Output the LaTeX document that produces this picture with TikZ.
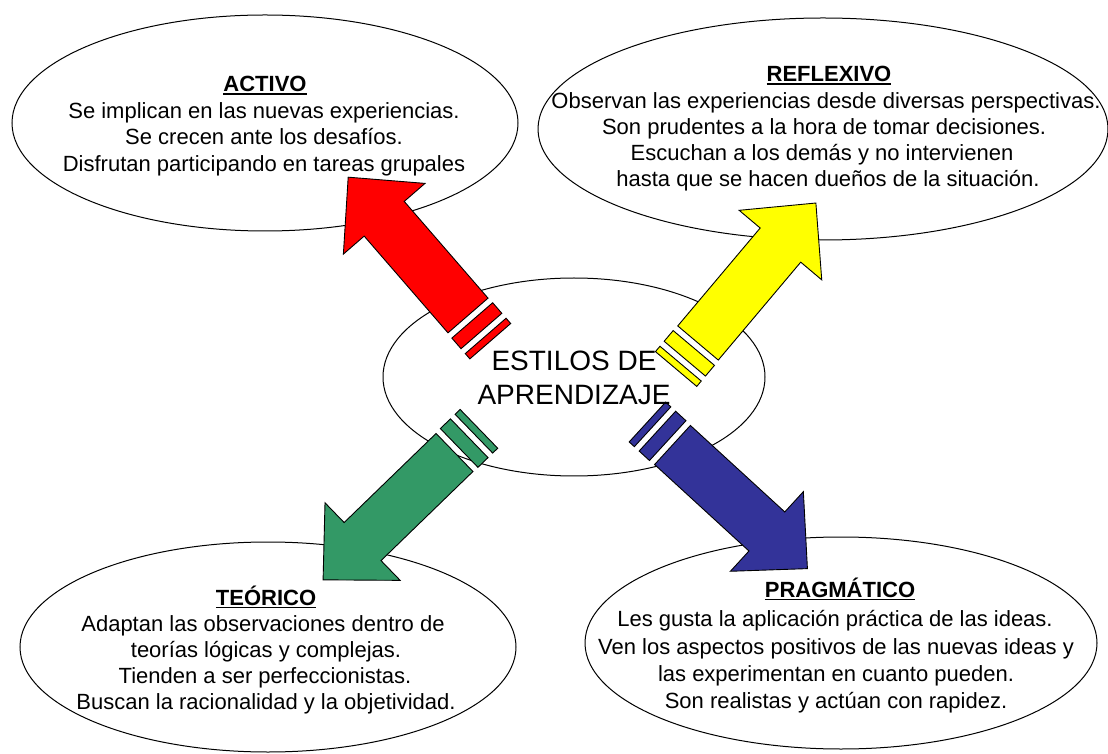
\documentclass[tikz,border=0pt]{standalone}
\usepackage{fontspec}
\setmainfont{Liberation Sans}
\usetikzlibrary{shapes.geometric}
\definecolor{tgreen}{HTML}{339966}
\definecolor{tblue}{HTML}{333399}
\definecolor{tred}{HTML}{FF0000}
\definecolor{tyellow}{HTML}{FFFF00}
\newcommand\myul[1]{\setbox0\hbox{#1}\rlap{\rule[-3.4pt]{\wd0}{1.7pt}}\box0}
\tikzset{
  oval/.style={ellipse, draw=black, line width=1pt, fill=white, inner sep=0pt},
  txt/.style={anchor=base, inner sep=0pt, font=\fontsize{22}{26}\selectfont},
  ttl/.style={anchor=base, inner sep=0pt, font=\fontsize{22}{26}\selectfont\bfseries},
  big/.style={anchor=base, inner sep=0pt, font=\fontsize{28}{34}\selectfont},
  arr/.style={draw=black, line width=0.9pt, line join=miter},
}
\newcommand\bigarrow[3]{%
  \begin{scope}[shift={(#1)}, rotate=#2]
    \filldraw[arr, fill=#3] (0,-26.5) -- (128,-26.5) -- (128,-54) -- (183,0) -- (128,54) -- (128,26.5) -- (0,26.5) -- cycle;
    \filldraw[arr, fill=#3] (-20.5,-27) rectangle (-6.5,27);
    \filldraw[arr, fill=#3] (-34,-27) rectangle (-27,27);
  \end{scope}}
\begin{document}
\begin{tikzpicture}[x=1pt, y=1pt]
  \useasboundingbox (0,0) rectangle (1108,753);
  \fill[white] (0,0) rectangle (1108,753);
  % ellipses
  \node[oval, minimum width=506pt, minimum height=216pt] (activo) at (265,630) {};
  \node[oval, minimum width=570pt, minimum height=222pt] (reflexivo) at (823,624) {};
  \node[oval, minimum width=382pt, minimum height=198pt] (centro) at (574,376) {};
  \node[oval, minimum width=496pt, minimum height=210pt] (teorico) at (268,106) {};
  \node[oval, minimum width=512pt, minimum height=212pt] (pragmatico) at (841,110) {};
  % arrow tails
  \coordinate (redtail) at (468,437.5);
  \coordinate (yeltail) at (698,410);
  \coordinate (grntail) at (454.5,300.5);
  \coordinate (blutail) at (672.5,308);
  \bigarrow{redtail}{130.9}{tred}
  \bigarrow{yeltail}{49.9}{tyellow}
  \bigarrow{grntail}{224.1}{tgreen}
  \bigarrow{blutail}{-42.5}{tblue}
  % centre text
  \node[big] (c1) at (574,382.3) {ESTILOS DE};
  \node[big] (c2) at (574,348) {APRENDIZAJE};
  % ACTIVO
  \node[ttl] (a0) at (265,661.3) {\myul{ACTIVO}};
  \node[txt] (a1) at (264,634.7) {Se implican en las nuevas experiencias.};
  \node[txt] (a2) at (264,608) {Se crecen ante los desafíos.};
  \node[txt] (a3) at (264,581.5) {Disfrutan participando en tareas grupales};
  % REFLEXIVO
  \node[ttl] (r0) at (829,671.3) {\myul{REFLEXIVO}};
  \node[txt] (r1) at (826,644.7) {Observan las experiencias desde diversas perspectivas.};
  \node[txt] (r2) at (824,618) {Son prudentes a la hora de tomar decisiones.};
  \node[txt] (r3) at (822,592) {Escuchan a los demás y no intervienen};
  \node[txt] (r4) at (828,566.3) {hasta que se hacen dueños de la situación.};
  % TEORICO
  \node[ttl] (t0) at (266,148) {\myul{TEÓRICO}};
  \node[txt] (t1) at (263,121.3) {Adaptan las observaciones dentro de};
  \node[txt] (t2) at (266,95.3) {teorías lógicas y complejas.};
  \node[txt] (t3) at (265,69.7) {Tienden a ser perfeccionistas.};
  \node[txt] (t4) at (266,43.7) {Buscan la racionalidad y la objetividad.};
  % PRAGMATICO
  \node[ttl] (p0) at (840,156) {\myul{PRAGMÁTICO}};
  \node[txt] (p1) at (835,127) {Les gusta la aplicación práctica de las ideas.};
  \node[txt] (p2) at (836,99) {Ven los aspectos positivos de las nuevas ideas y};
  \node[txt] (p3) at (836,72) {las experimentan en cuanto pueden.};
  \node[txt] (p4) at (836,44.5) {Son realistas y actúan con rapidez.};
\end{tikzpicture}
\end{document}
